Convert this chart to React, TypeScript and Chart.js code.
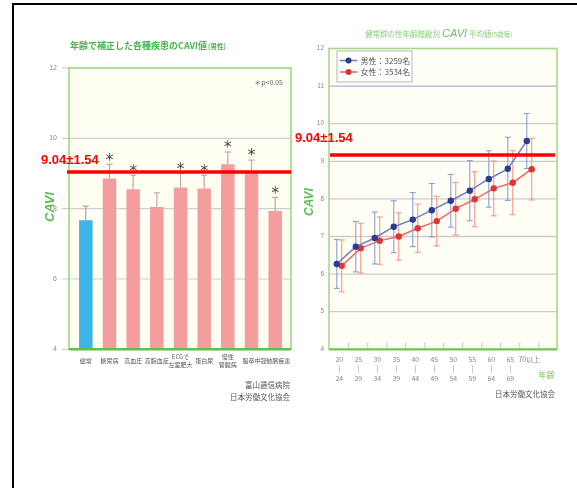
import React, { useEffect, useRef } from "react";
import { Chart, registerables } from "chart.js";
Chart.register(...registerables);

const FONT = '"Noto Sans CJK JP", "Liberation Sans", sans-serif';
const LATIN = '"Liberation Sans", "DejaVu Sans", sans-serif';

// ---------- Left chart data ----------
const leftTitle = "年齢で補正した各種疾患のCAVI値";
const leftTitleSub = "(男性)";
const diseaseLabels = [["健常"], ["糖尿病"], ["高血圧"], ["高脂血症"], ["ECGで", "左室肥大"], ["蛋白尿"], ["慢性", "腎臓病"], ["脳卒中"], ["冠動脈疾患"]];
const diseaseMean = [7.67, 8.86, 8.55, 8.05, 8.6, 8.57, 9.26, 9.02, 7.93];
const diseaseSD = [0.4, 0.4, 0.4, 0.4, 0.4, 0.38, 0.35, 0.36, 0.39];
const diseaseStar = [false, true, true, false, true, true, true, true, true];
const leftYTicks = [4, 6, 8, 10, 12];
const leftNote = "＊p<0.05";
const leftSources = ["富山逓信病院", "日本労働文化協会"];

// ---------- Right chart data ----------
const rightTitleA = "健常群の性年齢階級別";
const rightTitleB = "CAVI";
const rightTitleC = "平均値";
const rightTitleD = "(5歳毎)";
const ageLabels = [["20", "|", "24"], ["25", "|", "29"], ["30", "|", "34"], ["35", "|", "39"], ["40", "|", "44"], ["45", "|", "49"], ["50", "|", "54"], ["55", "|", "59"], ["60", "|", "64"], ["65", "|", "69"], ["70以上"]];
const maleMean = [6.27, 6.73, 6.96, 7.26, 7.45, 7.7, 7.95, 8.22, 8.53, 8.8, 9.54];
const maleSD = [0.65, 0.67, 0.69, 0.69, 0.72, 0.71, 0.7, 0.8, 0.75, 0.84, 0.73];
const femaleMean = [6.22, 6.69, 6.89, 7.0, 7.22, 7.41, 7.74, 7.99, 8.28, 8.43, 8.79];
const femaleSD = [0.69, 0.66, 0.63, 0.63, 0.64, 0.66, 0.7, 0.73, 0.73, 0.85, 0.82];
const rightYTicks = [4, 5, 6, 7, 8, 9, 10, 11, 12];
const legendLabels = ["男性：3259名", "女性：3534名"];
const xAxisName = "年齢";
const rightSource = "日本労働文化協会";

// ---------- Reference line ----------
const refMean = 9.04;
const refSD = 1.54;
const refLabel = `${refMean.toFixed(2)}±${refSD.toFixed(2)}`;
const rightRefLevel = 9.17;

const RED = "#ff0000";
const BLUE_PT = "#2b3c8e";
const BLUE_LN = "#6d80c4";
const BLUE_ERR = "#8c9fd6";
const RED_PT = "#e03535";
const RED_LN = "#ec6a6a";
const RED_ERR = "#f19a86";

function line(ctx: CanvasRenderingContext2D, x1: number, y1: number, x2: number, y2: number) {
  ctx.beginPath();
  ctx.moveTo(x1, y1);
  ctx.lineTo(x2, y2);
  ctx.stroke();
}

const leftDeco = {
  id: "leftDeco",
  beforeDatasetsDraw(chart: any) {
    const { ctx, chartArea: ca, scales } = chart;
    const y = scales.y;
    const fl = ca.left - 5, fr = ca.right + 4;
    ctx.save();
    ctx.fillStyle = "#fffef3";
    ctx.fillRect(fl, ca.top, fr - fl, ca.bottom - ca.top);
    ctx.strokeStyle = "#cfcfcf";
    ctx.lineWidth = 1.2;
    for (const t of leftYTicks) {
      const py = y.getPixelForValue(t);
      if (t === 4 || t === 12) line(ctx, fl - 7, py, fl, py);
      else line(ctx, fl - 7, py, fr, py);
    }
    ctx.restore();
  },
  afterDatasetsDraw(chart: any) {
    const { ctx, chartArea: ca, scales } = chart;
    const y = scales.y;
    const meta = chart.getDatasetMeta(0);
    ctx.save();
    meta.data.forEach((bar: any, i: number) => {
      const x = bar.x;
      const yTop = y.getPixelForValue(diseaseMean[i] + diseaseSD[i]);
      ctx.strokeStyle = i === 0 ? "#9aa6ae" : "#c9a3a3";
      ctx.lineWidth = 1.2;
      line(ctx, x, bar.y, x, yTop);
      line(ctx, x - 3, yTop, x + 3, yTop);
      if (diseaseStar[i]) {
        ctx.fillStyle = "#555";
        ctx.font = `bold 10px ${FONT}`;
        ctx.textAlign = "center";
        ctx.textBaseline = "middle";
        ctx.fillText("＊", x, yTop - 7.5);
      }
    });
    const fl = ca.left - 5, fr = ca.right + 4;
    ctx.strokeStyle = "#98d47c";
    ctx.lineWidth = 1.5;
    ctx.strokeRect(fl, ca.top, fr - fl, ca.bottom - ca.top);
    ctx.strokeStyle = "#62c047";
    ctx.lineWidth = 2.5;
    line(ctx, fl, ca.bottom, fr, ca.bottom);
    ctx.restore();
  },
  afterDraw(chart: any) {
    const { ctx, chartArea: ca, scales } = chart;
    const y = scales.y;
    ctx.save();
    // title
    ctx.fillStyle = "#47b34c";
    ctx.textBaseline = "middle";
    ctx.textAlign = "left";
    ctx.font = `bold 9px ${FONT}`;
    ctx.fillText(leftTitle, 70, 46);
    const w = ctx.measureText(leftTitle).width;
    ctx.font = `bold 6.5px ${FONT}`;
    ctx.fillText(leftTitleSub, 70 + w + 1, 47);
    // note
    ctx.fillStyle = "#666";
    ctx.font = `7px ${FONT}`;
    ctx.textAlign = "right";
    ctx.fillText(leftNote, ca.right - 4, 82);
    // CAVI axis title
    ctx.save();
    ctx.translate(50, 207);
    ctx.rotate(-Math.PI / 2);
    ctx.fillStyle = "#5cbc55";
    ctx.font = `italic bold 13px ${LATIN}`;
    ctx.textAlign = "center";
    ctx.fillText("CAVI", 0, 0);
    ctx.restore();
    // sources
    ctx.fillStyle = "#555";
    ctx.font = `7.5px ${FONT}`;
    ctx.textAlign = "right";
    ctx.fillText(leftSources[0], ca.right + 3, 385);
    ctx.fillText(leftSources[1], ca.right + 3, 397);
    // reference line
    const ry = y.getPixelForValue(refMean);
    ctx.strokeStyle = RED;
    ctx.lineWidth = 3.5;
    line(ctx, ca.left - 7, ry, ca.right + 4, ry);
    ctx.fillStyle = RED;
    ctx.font = `bold 13px ${LATIN}`;
    ctx.textAlign = "left";
    ctx.fillText(refLabel, 41, 160);
    ctx.restore();
  },
};

const rightDeco = {
  id: "rightDeco",
  beforeDatasetsDraw(chart: any) {
    const { ctx, chartArea: ca, scales } = chart;
    const y = scales.y;
    const x = scales.x;
    ctx.save();
    ctx.fillStyle = "#fffef5";
    ctx.fillRect(ca.left, ca.top, ca.right - ca.left, ca.bottom - ca.top);
    ctx.lineWidth = 1.3;
    for (const t of rightYTicks) {
      if (t === 4 || t === 12) continue;
      ctx.strokeStyle = t === 11 ? "#a9b4d6" : "#cbcbcb";
      const py = y.getPixelForValue(t);
      line(ctx, ca.left, py, ca.right, py);
    }
    ctx.strokeStyle = "#c8c8c8";
    ctx.lineWidth = 1;
    ageLabels.forEach((_, i) => {
      const px = x.getPixelForValue(i + 0.5);
      line(ctx, px, ca.bottom - 7, px, ca.bottom);
    });
    // error bars
    const series = [
      { mean: maleMean, sd: maleSD, color: BLUE_ERR, ds: 0 },
      { mean: femaleMean, sd: femaleSD, color: RED_ERR, ds: 1 },
    ];
    for (const s of series) {
      const meta = chart.getDatasetMeta(s.ds);
      ctx.strokeStyle = s.color;
      ctx.lineWidth = 1.1;
      meta.data.forEach((pt: any, i: number) => {
        const yt = y.getPixelForValue(s.mean[i] + s.sd[i]);
        const yb = y.getPixelForValue(s.mean[i] - s.sd[i]);
        line(ctx, pt.x, yt, pt.x, yb);
        line(ctx, pt.x - 3, yt, pt.x + 3, yt);
        line(ctx, pt.x - 3, yb, pt.x + 3, yb);
      });
    }
    ctx.restore();
  },
  afterDatasetsDraw(chart: any) {
    const { ctx, chartArea: ca } = chart;
    ctx.save();
    ctx.strokeStyle = "#a6d98c";
    ctx.lineWidth = 1.6;
    ctx.strokeRect(ca.left, ca.top, ca.right - ca.left, ca.bottom - ca.top);
    ctx.strokeStyle = "#74c65a";
    ctx.lineWidth = 2.2;
    line(ctx, ca.left, ca.bottom, ca.right, ca.bottom);
    // legend
    const bx = ca.left + 8, by = ca.top + 2.5, bw = 75, bh = 31;
    ctx.fillStyle = "#ffffff";
    ctx.fillRect(bx, by, bw, bh);
    ctx.strokeStyle = "#b8b8b8";
    ctx.lineWidth = 1;
    ctx.strokeRect(bx, by, bw, bh);
    const items = [
      { text: legendLabels[0], ln: BLUE_LN, pt: BLUE_PT, y: by + 9.5 },
      { text: legendLabels[1], ln: RED_LN, pt: RED_PT, y: by + 21 },
    ];
    for (const it of items) {
      ctx.strokeStyle = it.ln;
      ctx.lineWidth = 1.6;
      line(ctx, bx + 2.5, it.y, bx + 20.5, it.y);
      ctx.fillStyle = it.pt;
      ctx.beginPath();
      ctx.arc(bx + 11.5, it.y, 3, 0, Math.PI * 2);
      ctx.fill();
      ctx.fillStyle = "#555";
      ctx.font = `8px ${FONT}`;
      ctx.textAlign = "left";
      ctx.textBaseline = "middle";
      ctx.fillText(it.text, bx + 23.5, it.y);
    }
    ctx.restore();
  },
  afterDraw(chart: any) {
    const { ctx, chartArea: ca, scales } = chart;
    const y = scales.y;
    ctx.save();
    // title
    ctx.fillStyle = "#8bcd7a";
    ctx.textBaseline = "middle";
    ctx.textAlign = "left";
    let tx = 75;
    ctx.font = `7.5px ${FONT}`;
    ctx.fillText(rightTitleA, tx, 34);
    tx += ctx.measureText(rightTitleA).width + 2;
    ctx.fillStyle = "#6fbf62";
    ctx.font = `italic 11px ${LATIN}`;
    ctx.fillText(rightTitleB, tx, 34);
    tx += ctx.measureText(rightTitleB).width + 2;
    ctx.fillStyle = "#8bcd7a";
    ctx.font = `7.5px ${FONT}`;
    ctx.fillText(rightTitleC, tx, 34);
    tx += ctx.measureText(rightTitleC).width;
    ctx.font = `6.5px ${FONT}`;
    ctx.fillText(rightTitleD, tx, 34.5);
    // CAVI axis title
    ctx.save();
    ctx.translate(20, 202);
    ctx.rotate(-Math.PI / 2);
    ctx.fillStyle = "#5cbc55";
    ctx.font = `italic bold 12px ${LATIN}`;
    ctx.textAlign = "center";
    ctx.fillText("CAVI", 0, 0);
    ctx.restore();
    // x axis name
    ctx.fillStyle = "#72c45c";
    ctx.font = `8px ${FONT}`;
    ctx.textAlign = "center";
    ctx.fillText(xAxisName, 256.5, 375);
    // source
    ctx.fillStyle = "#555";
    ctx.font = `7.5px ${FONT}`;
    ctx.textAlign = "right";
    ctx.fillText(rightSource, ca.right - 2, 394);
    // reference line
    const ry = y.getPixelForValue(rightRefLevel);
    ctx.strokeStyle = RED;
    ctx.lineWidth = 3.5;
    line(ctx, ca.left + 1, ry, ca.right - 2, ry);
    ctx.fillStyle = RED;
    ctx.font = `bold 13px ${LATIN}`;
    ctx.textAlign = "left";
    ctx.fillText(refLabel, 5, 138);
    ctx.restore();
  },
};

function leftConfig(): any {
  return {
    type: "bar",
    data: {
      labels: diseaseLabels,
      datasets: [
        {
          data: diseaseMean,
          backgroundColor: diseaseMean.map((_, i) => (i === 0 ? "#3db5ea" : "#f59d9c")),
          barPercentage: 0.57,
          categoryPercentage: 1,
          borderWidth: 0,
        },
      ],
    },
    options: {
      responsive: false,
      maintainAspectRatio: false,
      animation: false,
      layout: { padding: { left: 0, right: 13, top: 68, bottom: 20.7 } },
      plugins: { legend: { display: false }, tooltip: { enabled: false }, title: { display: false } },
      scales: {
        x: {
          grid: { display: false, drawTicks: false },
          border: { display: false },
          ticks: {
            font: { family: FONT, size: 6, lineHeight: 1.38 },
            color: "#555",
            padding: 7,
            maxRotation: 0,
            minRotation: 0,
            autoSkip: false,
            crossAlign: "center",
          },
          afterFit: (s: any) => {
            s.height = 50;
          },
        },
        y: {
          min: 4,
          max: 12,
          afterBuildTicks: (s: any) => {
            s.ticks = leftYTicks.map((v) => ({ value: v }));
          },
          grid: { display: false, drawTicks: false },
          border: { display: false },
          ticks: { font: { family: LATIN, size: 7 }, color: "#888", padding: 17 },
          afterFit: (s: any) => {
            s.width = 74;
          },
        },
      },
    },
    plugins: [leftDeco],
  };
}

function rightConfig(): any {
  return {
    type: "line",
    data: {
      datasets: [
        {
          data: maleMean.map((v, i) => ({ x: i - 0.13, y: v })),
          borderColor: BLUE_LN,
          borderWidth: 1.5,
          pointBackgroundColor: BLUE_PT,
          pointBorderWidth: 0,
          pointRadius: 3.2,
          tension: 0,
        },
        {
          data: femaleMean.map((v, i) => ({ x: i + 0.13, y: v })),
          borderColor: RED_LN,
          borderWidth: 1.5,
          pointBackgroundColor: RED_PT,
          pointBorderWidth: 0,
          pointRadius: 3.2,
          tension: 0,
        },
      ],
    },
    options: {
      responsive: false,
      maintainAspectRatio: false,
      animation: false,
      layout: { padding: { left: 0, right: 20, top: 48.5, bottom: 20.7 } },
      plugins: { legend: { display: false }, tooltip: { enabled: false }, title: { display: false } },
      scales: {
        x: {
          type: "linear",
          min: -0.54,
          max: 11.46,
          afterBuildTicks: (s: any) => {
            s.ticks = ageLabels.map((_, i) => ({ value: i }));
          },
          grid: { display: false, drawTicks: false },
          border: { display: false },
          ticks: {
            callback: (v: any) => ageLabels[Math.round(v)] ?? "",
            font: { family: FONT, size: 7, lineHeight: 1.37 },
            color: "#888",
            padding: 5,
            maxRotation: 0,
            minRotation: 0,
            autoSkip: false,
          },
          afterFit: (s: any) => {
            s.height = 50;
          },
        },
        y: {
          min: 4,
          max: 12,
          afterBuildTicks: (s: any) => {
            s.ticks = rightYTicks.map((v) => ({ value: v }));
          },
          grid: { display: false, drawTicks: false },
          border: { display: false },
          ticks: { font: { family: LATIN, size: 6.5 }, color: "#888", padding: 5 },
          afterFit: (s: any) => {
            s.width = 39;
          },
        },
      },
    },
    plugins: [rightDeco],
  };
}

export default function App() {
  const leftRef = useRef<HTMLCanvasElement>(null);
  const rightRef = useRef<HTMLCanvasElement>(null);
  useEffect(() => {
    const l = new Chart(leftRef.current!, leftConfig());
    const r = new Chart(rightRef.current!, rightConfig());
    return () => {
      l.destroy();
      r.destroy();
    };
  }, []);
  return (
    <div style={{ position: "fixed", left: 0, top: 0, width: 577, height: 488, background: "#fff", overflow: "hidden" }}>
      <div
        style={{
          position: "absolute",
          left: 12,
          top: 3,
          width: 700,
          height: 700,
          border: "2px solid #000",
          boxSizing: "border-box",
        }}
      />
      <canvas ref={leftRef} width={300} height={420} style={{ position: "absolute", left: 0, top: 0, width: 300, height: 420 }} />
      <canvas ref={rightRef} width={287} height={420} style={{ position: "absolute", left: 290, top: 0, width: 287, height: 420 }} />
    </div>
  );
}
